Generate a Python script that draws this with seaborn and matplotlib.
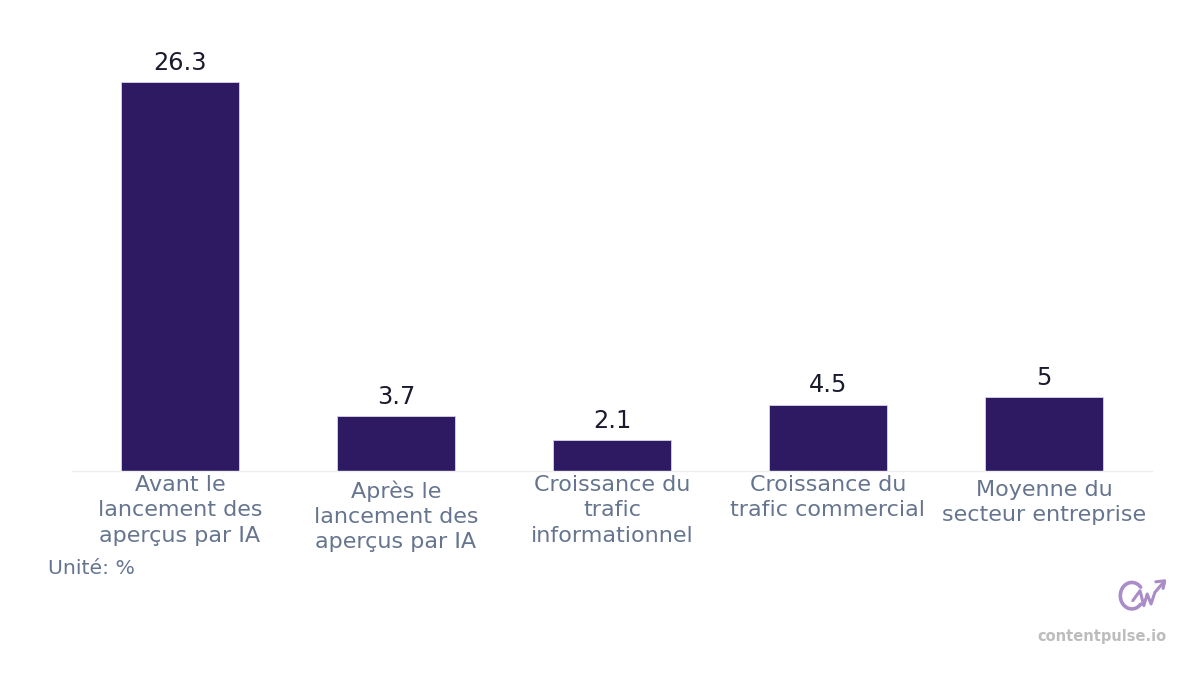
import pandas as pd
import numpy as np
import matplotlib.pyplot as plt
import matplotlib.transforms as mtransforms
import seaborn as sns

# --------------------------------------------------------------
# Data
# --------------------------------------------------------------
categories = [
    "Avant le\nlancement des\naperçus par IA",
    "Après le\nlancement des\naperçus par IA",
    "Croissance du\ntrafic\ninformationnel",
    "Croissance du\ntrafic commercial",
    "Moyenne du\nsecteur entreprise",
]
values = [26.3, 3.7, 2.1, 4.5, 5]
value_labels = ["26.3", "3.7", "2.1", "4.5", "5"]
unit_label = "Unité: %"
brand = "contentpulse.io"

df = pd.DataFrame({"category": categories, "value": values})

# --------------------------------------------------------------
# Plot
# --------------------------------------------------------------
sns.set_style("white")
plt.rcParams["font.family"] = ["DejaVu Sans"]

fig = plt.figure(figsize=(12, 6.75), dpi=100)
ax = fig.add_axes([0.06, 0.302, 0.90, 0.606])

sns.barplot(data=df, x="category", y="value", color="#2e1a62",
            width=0.546, saturation=1, edgecolor="#d8d4e6", linewidth=0.6, ax=ax)

for i, (v, lab) in enumerate(zip(values, value_labels)):
    ax.text(i, v + 0.5, lab, ha="center", va="bottom", fontsize=17.3, color="#1b1b2f")

ax.set_ylim(0, 27.65)
ax.set_xlim(-0.5, len(categories) - 0.5)
ax.set_yticks([])
ax.set_xlabel("")
ax.set_ylabel("")
ax.tick_params(axis="x", length=0, pad=3)
ax.set_xticks(range(len(categories)))
ax.set_xticklabels(categories, fontsize=16, color="#66758f", linespacing=1.32)
# second and last labels sit a little lower in the original
for i in [1, 4]:
    lbl = ax.get_xticklabels()[i]
    lbl.set_transform(lbl.get_transform()
                      + mtransforms.ScaledTranslation(0, -5 / 100, fig.dpi_scale_trans))
for s in ["top", "right", "left"]:
    ax.spines[s].set_visible(False)
ax.spines["bottom"].set_color("#eeeeee")
ax.spines["bottom"].set_linewidth(1)

fig.text(0.04, 0.158, unit_label, fontsize=14.7, color="#66758f", ha="left", va="center")

# brand mark
fig.text(0.972, 0.057, brand, fontsize=10.5, fontweight="bold", color="#bdbdbd",
         ha="right", va="center")
logo_ax = fig.add_axes([0.932, 0.093, 0.040, 0.049])
logo_ax.axis("off")
theta = np.linspace(0.7, 2 * np.pi - 0.7, 40)
logo_ax.plot(0.28 + 0.24 * np.cos(theta), 0.5 + 0.4 * np.sin(theta), color="#a98cc8", lw=2.6)
logo_ax.plot([0.3, 0.45, 0.53, 0.6, 0.68, 0.76, 0.95], [0.35, 0.65, 0.2, 0.55, 0.25, 0.6, 0.92],
             color="#a98cc8", lw=2.2)
logo_ax.plot([0.78, 0.97, 0.93], [0.92, 0.95, 0.72], color="#a98cc8", lw=2.2)
logo_ax.set_xlim(0, 1)
logo_ax.set_ylim(0, 1)

plt.savefig("out.png", dpi=100)
